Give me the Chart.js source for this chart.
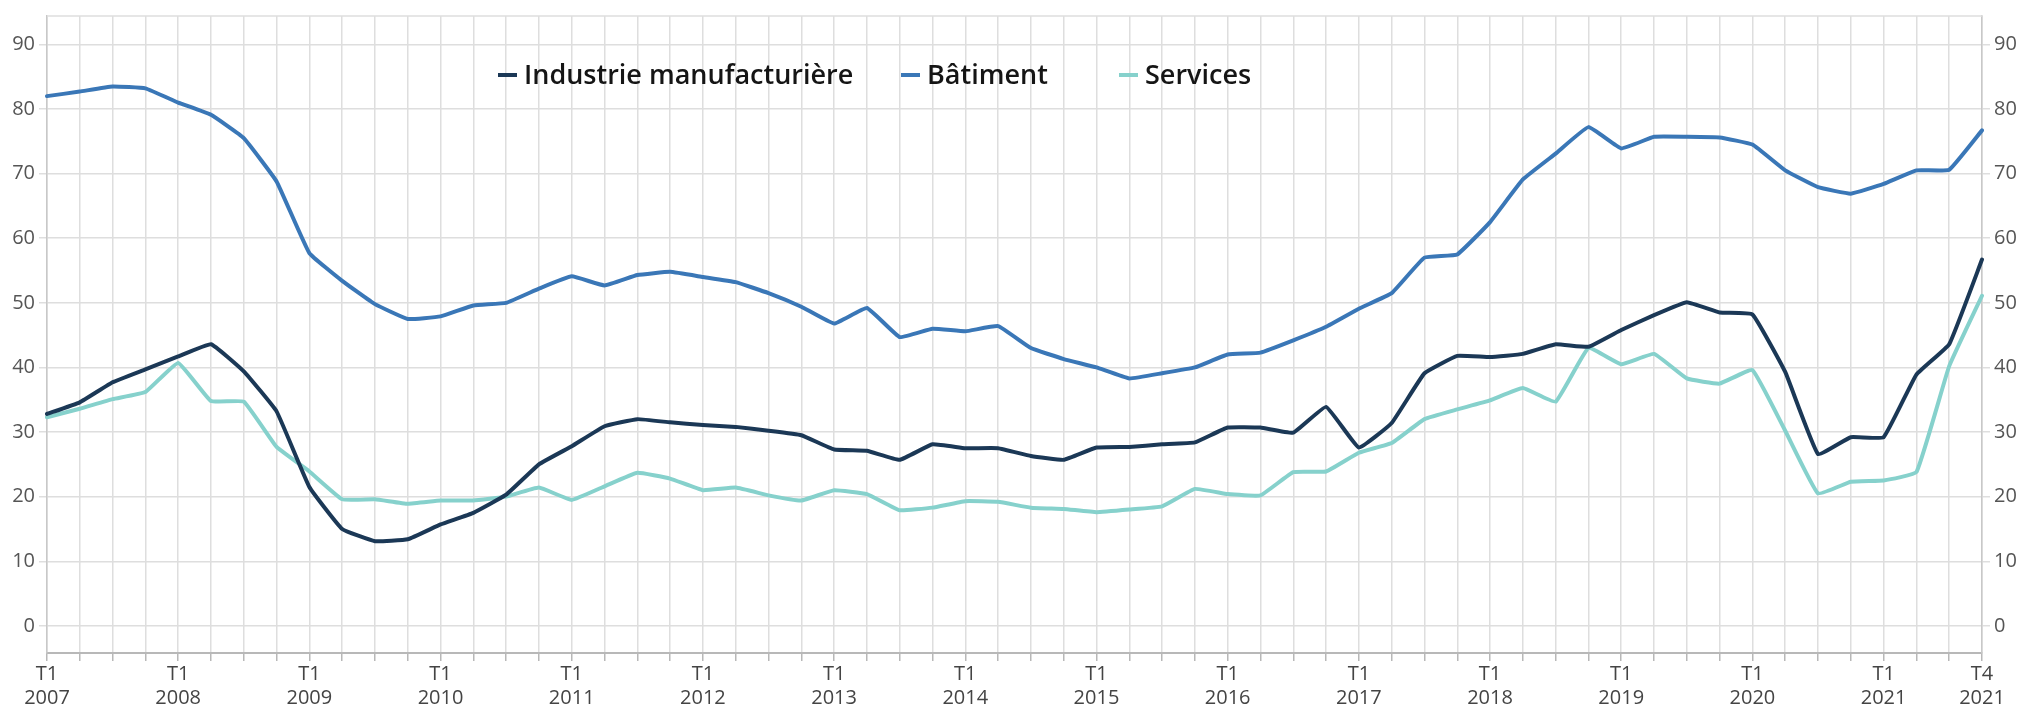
<!DOCTYPE html>
<html>
<head>
<meta charset="utf-8">
<script src="https://cdn.jsdelivr.net/npm/chart.js@4.4.1/dist/chart.umd.min.js"></script>
<style>
  body { margin: 0; background: #fff; }
  #wrap { width: 2028px; height: 708px; }
</style>
</head>
<body>
<div id="wrap"><canvas id="chart" width="2028" height="708"></canvas></div>
<script>
// categories: 2007 T1 ... 2021 T4
const years = [2007, 2008, 2009, 2010, 2011, 2012, 2013, 2014, 2015, 2016, 2017, 2018, 2019, 2020, 2021];
const quarters = ['T1', 'T2', 'T3', 'T4'];
const labels = [];
years.forEach(y => quarters.forEach(q => labels.push(q + ' ' + y)));

const industrie = [
  32.8, 34.6, 37.7, 39.7,
  41.7, 43.6, 39.4, 33.2,
  21.5, 15.0, 13.1, 13.4,
  15.7, 17.5, 20.3, 25.0,
  27.8, 30.9, 32.0, 31.5,
  31.1, 30.8, 30.2, 29.5,
  27.3, 27.1, 25.7, 28.1,
  27.5, 27.5, 26.3, 25.7,
  27.6, 27.7, 28.1, 28.4,
  30.7, 30.7, 29.9, 33.9,
  27.6, 31.4, 39.1, 41.8,
  41.6, 42.1, 43.6, 43.2,
  45.8, 48.1, 50.1, 48.5,
  48.2, 39.3, 26.6, 29.2,
  29.2, 38.9, 43.6, 56.7
];
const batiment = [
  82.0, 82.7, 83.5, 83.2,
  81.0, 79.1, 75.5, 68.8,
  57.7, 53.4, 49.8, 47.5,
  47.9, 49.6, 50.0, 52.2,
  54.1, 52.7, 54.3, 54.8,
  54.0, 53.2, 51.5, 49.4,
  46.8, 49.2, 44.7, 46.0,
  45.6, 46.4, 43.0, 41.3,
  40.0, 38.3, 39.1, 40.0,
  42.0, 42.3, 44.2, 46.3,
  49.1, 51.5, 57.0, 57.5,
  62.5, 69.1, 73.1, 77.2,
  73.9, 75.7, 75.7, 75.6,
  74.5, 70.5, 67.9, 66.9,
  68.4, 70.5, 70.6, 76.7
];
const services = [
  32.3, 33.6, 35.1, 36.2,
  40.7, 34.8, 34.7, 27.7,
  23.9, 19.6, 19.6, 18.9,
  19.4, 19.4, 20.0, 21.4,
  19.5, 21.6, 23.7, 22.8,
  21.0, 21.4, 20.2, 19.4,
  21.0, 20.4, 17.9, 18.3,
  19.3, 19.2, 18.3, 18.1,
  17.6, 18.0, 18.5, 21.2,
  20.4, 20.2, 23.8, 23.9,
  26.8, 28.3, 32.0, 33.5,
  34.9, 36.8, 34.7, 43.0,
  40.5, 42.1, 38.3, 37.5,
  39.6, 30.2, 20.5, 22.3,
  22.5, 23.8, 40.2, 51.1
];
const yTicks = [0, 10, 20, 30, 40, 50, 60, 70, 80, 90];

const seriesNames = ['Industrie manufacturière', 'Bâtiment', 'Services'];
const seriesColors = ['#1b3856', '#3a77b7', '#86d1cc'];

const gridColor = '#dedede';
const font = "'Open Sans', 'Noto Sans', sans-serif";

// legend drawn inside the plot, near the top
const insideLegend = {
  id: 'insideLegend',
  afterDraw(chart) {
    const ctx = chart.ctx;
    const a = chart.chartArea;
    const starts = [451, 854, 1072];
    ctx.save();
    // top frame line
    ctx.strokeStyle = gridColor;
    ctx.lineWidth = 1.5;
    ctx.beginPath();
    ctx.moveTo(a.left, a.top);
    ctx.lineTo(a.right, a.top);
    ctx.stroke();

    ctx.font = '600 27px ' + font;
    ctx.textBaseline = 'alphabetic';
    ctx.fillStyle = '#151515';
    seriesNames.forEach((name, i) => {
      const x = a.left + starts[i];
      const base = a.top + 68;
      ctx.strokeStyle = seriesColors[i];
      ctx.lineWidth = 4;
      ctx.beginPath();
      ctx.moveTo(x, base - 9);
      ctx.lineTo(x + 19, base - 9);
      ctx.stroke();
      ctx.fillText(name, x + 26, base);
    });
    ctx.restore();
  }
};

new Chart(document.getElementById('chart'), {
  type: 'line',
  data: {
    labels: labels,
    datasets: [
      { label: seriesNames[0], data: industrie, borderColor: seriesColors[0] },
      { label: seriesNames[1], data: batiment, borderColor: seriesColors[1] },
      { label: seriesNames[2], data: services, borderColor: seriesColors[2] }
    ]
  },
  options: {
    responsive: false,
    animation: false,
    layout: { padding: { top: 10, left: 0, right: 0, bottom: 0 } },
    elements: {
      point: { radius: 0 },
      line: { borderWidth: 4, tension: 0.1, borderJoinStyle: 'round', borderCapStyle: 'round' }
    },
    plugins: {
      legend: { display: false },
      tooltip: { enabled: false }
    },
    scales: {
      x: {
        grid: { color: gridColor, lineWidth: 1.5, tickLength: 8, tickColor: '#b8b8b8' },
        border: { color: '#b8b8b8', width: 2 },
        ticks: {
          autoSkip: false,
          maxRotation: 0,
          padding: 1,
          color: '#444',
          font: { family: font, size: 20, lineHeight: 1.2 },
          callback: function (value, index) {
            const parts = labels[index].split(' ');
            if (parts[0] === 'T1' || index === labels.length - 1) return [parts[0], parts[1]];
            return '';
          }
        },
        afterFit: s => { s.height = 55; }
      },
      y: {
        position: 'left',
        min: -4.2,
        max: 94.4,
        afterBuildTicks: s => { s.ticks = yTicks.map(v => ({ value: v })); },
        grid: { color: gridColor, lineWidth: 1.5, tickLength: 8 },
        border: { color: '#c8c8c8', width: 1.5 },
        ticks: { padding: 4, color: '#555', font: { family: font, size: 20 } },
        afterFit: s => { s.width = 47; }
      },
      y2: {
        position: 'right',
        min: -4.2,
        max: 94.4,
        afterBuildTicks: s => { s.ticks = yTicks.map(v => ({ value: v })); },
        grid: { drawOnChartArea: false, color: gridColor, lineWidth: 1.5, tickLength: 8 },
        border: { color: '#c8c8c8', width: 1.5 },
        ticks: { padding: 4, color: '#555', font: { family: font, size: 20 } },
        afterFit: s => { s.width = 46; }
      }
    }
  },
  plugins: [insideLegend]
});
</script>
</body>
</html>
